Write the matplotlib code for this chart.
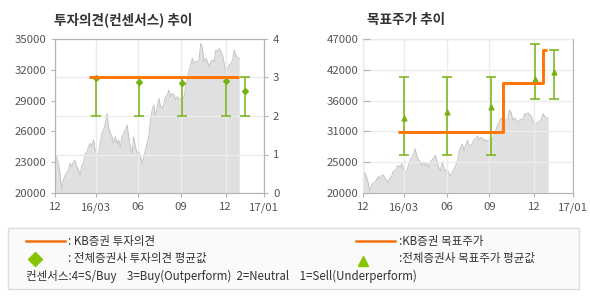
import matplotlib
matplotlib.use('Agg')
import matplotlib.pyplot as plt
from matplotlib.patches import Rectangle
from matplotlib.lines import Line2D
import numpy as np

plt.rcParams['font.family'] = ['Noto Sans CJK KR', 'DejaVu Sans']

# x axis: trading days since 2015-12-01.
tick_days = [0, 60, 121, 183, 248, 304]
tick_labels = ['12', '16/03', '06', '09', '12', '17/01']

# Share price, evenly spaced from day 0 to day 268.
price = [23800, 23540, 22900, 21900, 20300, 21270, 21750, 21900, 22240, 22900,
         22560, 23050, 23200, 22560, 22240, 21750, 22730, 22900, 23860, 23860,
         24500, 24840, 24500, 25160, 24190, 23700, 23860, 24840, 25800, 26140,
         26790, 27760, 26460, 25800, 25490, 24840, 25490, 24840, 25160, 24500,
         25490, 25800, 26140, 26620, 25490, 24500, 23860, 25490, 24500, 23860,
         24030, 23540, 22900, 23540, 24190, 24840, 25490, 27110, 28080, 28570,
         27430, 28400, 29220, 28400, 28250, 28730, 29380, 29550, 30030, 29380,
         29710, 29550, 29060, 29380, 29060, 29220, 29060, 29380, 30360, 31010,
         31980, 32470, 33120, 32630, 32790, 32790, 32950, 34580, 34090, 32790,
         33120, 32790, 32310, 32790, 32950, 32790, 33930, 33770, 34090, 33770,
         33440, 32630, 31660, 32140, 32470, 32630, 32950, 33930, 33440, 33120,
         33120]
price_days = np.linspace(0, 268, len(price))

# KB opinion (3 = Buy) and consensus opinion range.
kb_op_days = [50, 268]
kb_op = [3, 3]
cons_days = [60, 122, 185, 249, 276]
op_avg = [2.98, 2.88, 2.85, 2.91, 2.65]
op_low = [2, 2, 2, 2, 2]
op_high = [3, 3, 3, 3, 3]

# KB target price (step) and consensus target range.
kb_tp_days = [51, 202, 260, 267]
kb_tp = [30700, 39200, 45000, 45000]
tp_avg = [33100, 34200, 35100, 39900, 41200]
tp_low = [26600, 26600, 26600, 36400, 36400]
tp_high = [40300, 40300, 40300, 46100, 45000]

left_ticks = [20000, 23000, 26000, 29000, 32000, 35000]
right_ticks = np.linspace(20000, 47000, 6)
right_labels = ['20000', '25000', '31000', '36000', '42000', '47000']

ORANGE = '#ff7300'
GREEN = '#76b312'
FILL = '#e0e0e0'
GRID = '#ececec'
SPINE = '#b4b4b4'
TXT = '#555555'

fig = plt.figure(figsize=(5.9, 3.0), dpi=100)


def style(ax):
    for s in ax.spines.values():
        s.set_color(SPINE)
    ax.tick_params(colors=SPINE, labelcolor=TXT, labelsize=8.2, length=3, width=0.8)
    ax.set_xlim(0, 304)
    ax.set_xticks(tick_days)
    ax.set_xticklabels(tick_labels)


# Left: opinion
ax = fig.add_axes([55/590, 107/300, 209/590, 154/300])
ax.fill_between(price_days, price, 20000, color=FILL, lw=0, zorder=1)
ax.plot(price_days, price, color='#c4c4c4', lw=0.7, zorder=1.5)
ax.set_ylim(20000, 35000)
ax.set_yticks(left_ticks)
style(ax)
ax.set_axisbelow(False)
ax.grid(axis='x', color=GRID, lw=1)

ax2 = ax.twinx()
ax2.set_ylim(0, 4)
ax2.set_yticks([0, 1, 2, 3, 4])
for s in ax2.spines.values():
    s.set_color(SPINE)
ax2.tick_params(colors=SPINE, labelcolor=TXT, labelsize=8.2, length=3, width=0.8)
ax2.grid(axis='y', color=GRID, lw=1, zorder=0)
ax2.errorbar(cons_days, op_avg,
             yerr=[np.subtract(op_avg, op_low), np.subtract(op_high, op_avg)],
             fmt='D', ms=3, color=GREEN, ecolor=GREEN, elinewidth=1.1,
             capsize=3.3, capthick=1.1, zorder=3)
ax2.plot(kb_op_days, kb_op, color=ORANGE, lw=2.1, zorder=4, solid_capstyle='butt')

# Right: target price
bx = fig.add_axes([363/590, 107/300, 210/590, 154/300])
bx.fill_between(price_days, price, 20000, color=FILL, lw=0, zorder=1)
bx.plot(price_days, price, color='#c4c4c4', lw=0.7, zorder=1.5)
bx.set_ylim(20000, 47000)
bx.set_yticks(right_ticks)
bx.set_yticklabels(right_labels)
style(bx)
bx.tick_params(axis='y', direction='in', length=5)
bx.set_axisbelow(False)
bx.grid(color=GRID, lw=1)
bx.errorbar(cons_days, tp_avg,
            yerr=[np.subtract(tp_avg, tp_low), np.subtract(tp_high, tp_avg)],
            fmt='^', ms=3.5, color=GREEN, ecolor=GREEN, elinewidth=1.1,
            capsize=3.3, capthick=1.1, zorder=3)
bx.plot(kb_tp_days, kb_tp, color=ORANGE, lw=2.1, drawstyle='steps-post',
        zorder=4, solid_capstyle='butt')

# Titles
fig.text(54/590, 1 - 20/300, '투자의견(컨센서스) 추이', fontsize=9.8,
         fontweight='bold', color='#333333', va='center')
fig.text(367/590, 1 - 20/300, '목표주가 추이', fontsize=9.8,
         fontweight='bold', color='#333333', va='center')

# Legend box
fig.patches.append(Rectangle((8/590, 1 - 289/300), 571/590, 61/300,
                             transform=fig.transFigure, facecolor='#fafafa',
                             edgecolor='#dcdcdc', lw=1))
lt = dict(fontsize=8.3, color='#333333', va='center')
y1, y2, y3 = 1 - 241/300, 1 - 258.5/300, 1 - 276.5/300
fig.lines.append(Line2D([26/590, 65/590], [y1, y1], transform=fig.transFigure,
                        color='#f07010', lw=1.8))
fig.lines.append(Line2D([356/590, 395/590], [y1, y1], transform=fig.transFigure,
                        color='#f07010', lw=1.8))
fig.lines.append(Line2D([35/590], [y2], transform=fig.transFigure, marker='D',
                        ms=7, color='#88c400', lw=0))
fig.lines.append(Line2D([362.7/590], [y2 - 2/300], transform=fig.transFigure,
                        marker='^', ms=7, color='#88c400', lw=0))
fig.text(68/590, y1, ': KB증권 투자의견', **lt)
fig.text(399/590, y1, ':KB증권 목표주가', **lt)
fig.text(68/590, y2, ': 전체증권사 투자의견 평균값', **lt)
fig.text(399/590, y2, ':전체증권사 목표주가 평균값', **lt)
fig.text(26/590, y3, '컨센서스:4=S/Buy    3=Buy(Outperform)  2=Neutral    1=Sell(Underperform)', **lt)

fig.savefig('out.png', dpi=100)
